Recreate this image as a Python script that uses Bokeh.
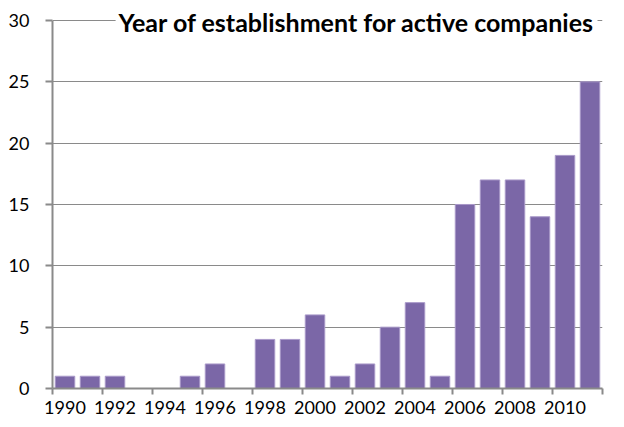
from bokeh.plotting import figure
from bokeh.models import FixedTicker, Label, Range1d
from bokeh.embed import file_html
from bokeh.resources import INLINE

years = list(range(1990, 2012))
counts = [1, 1, 1, 0, 0, 1, 2, 0, 4, 4, 6, 1, 2, 5, 7, 1, 15, 17, 17, 14, 19, 25]
x_tick_labels = list(range(1990, 2012, 2))
y_ticks = [0, 5, 10, 15, 20, 25, 30]
title_text = "Year of establishment for active companies"

FONT = "Lato"
GRID = "#8a8a8a"

p = figure(width=624, height=427, output_backend="svg", toolbar_location=None,
           x_range=Range1d(years[0] - 0.5, years[-1] + 0.5), y_range=Range1d(0, 31.22),
           min_border_left=52, min_border_right=22, min_border_top=5, min_border_bottom=39)
p.outline_line_color = None
p.background_fill_color = "white"

p.vbar(x=years, top=counts, width=0.78, fill_color="#7b67a7", line_color="#a999c9", line_width=1)

# x axis
xt = FixedTicker(ticks=x_tick_labels, minor_ticks=[y - 0.5 for y in range(1990, 2013, 2)])
p.xaxis.ticker = xt
p.xaxis.major_tick_line_color = None
p.xaxis.minor_tick_line_color = GRID
p.xaxis.minor_tick_line_width = 2
p.xaxis.minor_tick_out = 6
p.xaxis.minor_tick_in = 0
p.xaxis.axis_line_color = GRID
p.xaxis.axis_line_width = 2
p.xaxis.major_label_text_font = FONT
p.xaxis.major_label_text_font_size = "18px"
p.xaxis.major_label_text_color = "black"
p.xaxis.major_label_standoff = 6

# y axis
p.yaxis.ticker = FixedTicker(ticks=y_ticks)
p.yaxis.bounds = (y_ticks[0], y_ticks[-1])
p.yaxis.minor_tick_line_color = None
p.yaxis.major_tick_line_color = GRID
p.yaxis.major_tick_line_width = 2
p.yaxis.major_tick_out = 7
p.yaxis.major_tick_in = 0
p.yaxis.axis_line_color = GRID
p.yaxis.axis_line_width = 2
p.yaxis.major_label_text_font = FONT
p.yaxis.major_label_text_font_size = "18px"
p.yaxis.major_label_text_color = "black"
p.yaxis.major_label_standoff = 16

p.xgrid.grid_line_color = None
p.ygrid.grid_line_color = GRID
p.ygrid.grid_line_width = 1
p.ygrid.ticker = FixedTicker(ticks=y_ticks)

title = Label(x=years[-1] + 0.5, y=y_ticks[-1], x_offset=-5, y_offset=-2, text=title_text,
              text_align="right", text_baseline="middle",
              text_font=FONT, text_font_style="bold", text_font_size="25px",
              text_color="black", background_fill_color="white", padding=3)
p.add_layout(title)

open("out.html", "w").write(file_html(p, INLINE))
